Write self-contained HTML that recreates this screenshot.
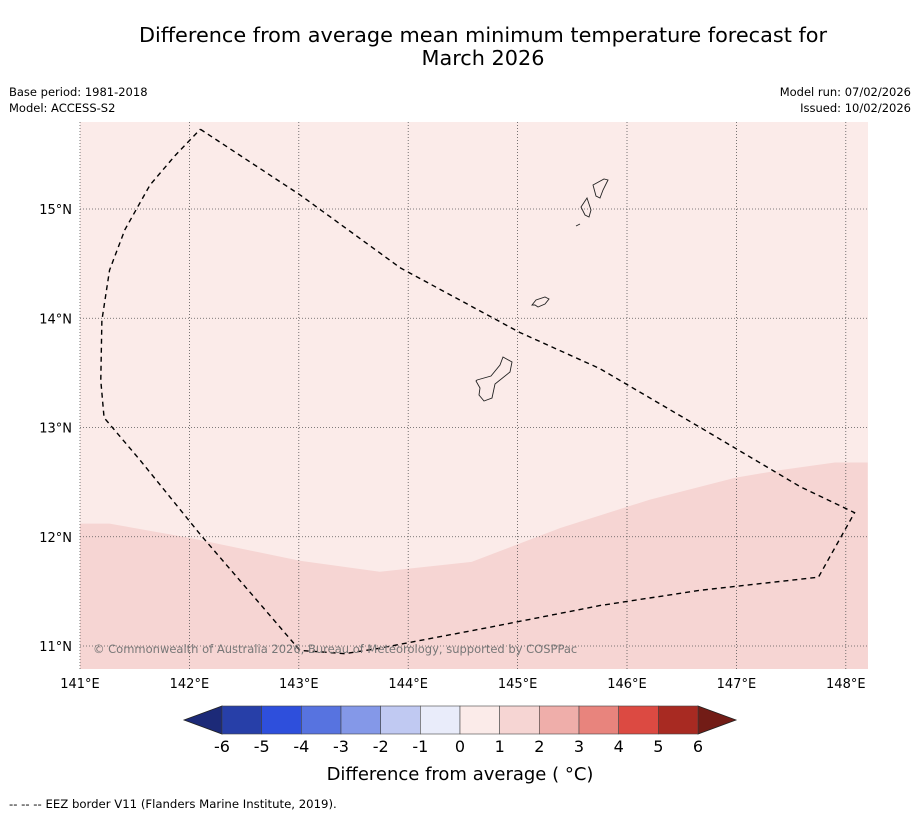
<!DOCTYPE html>
<html><head><meta charset="utf-8"><style>
body{margin:0;background:#fff;width:919px;height:816px;overflow:hidden;font-family:"DejaVu Sans",sans-serif}
</style></head><body>
<svg id="s" width="919" height="816" xmlns="http://www.w3.org/2000/svg" font-family="DejaVu Sans, sans-serif">
<text x="483" y="42" font-size="20.8" text-anchor="middle">Difference from average mean minimum temperature forecast for</text>
<text x="483" y="65" font-size="20.8" text-anchor="middle">March 2026</text>
<text x="9" y="96" font-size="11.5">Base period: 1981-2018</text>
<text x="9" y="112" font-size="11.5">Model: ACCESS-S2</text>
<text x="911" y="96" font-size="11.5" text-anchor="end">Model run: 07/02/2026</text>
<text x="911" y="112" font-size="11.5" text-anchor="end">Issued: 10/02/2026</text>
<rect x="80" y="122" width="788" height="547" fill="#fbebe9"/>
<g id="map"></g>
<text x="93" y="653" font-size="11.5" fill="#777">© Commonwealth of Australia 2026, Bureau of Meteorology, supported by COSPPac</text>
<g id="cb"></g>
<text x="460" y="780" font-size="18" text-anchor="middle">Difference from average ( °C)</text>
<text x="9" y="808" font-size="11.7">-- -- -- EEZ border V11 (Flanders Marine Institute, 2019).</text>
</svg>
<script>
const lonTicks=[141,142,143,144,145,146,147,148];
const latTicks=[11,12,13,14,15];
const contourLon=[141.0,141.27,142.0,143.01,143.74,144.58,145.39,146.21,146.99,147.4,147.9,148.2];
const contourLat=[12.12,12.12,11.99,11.78,11.68,11.77,12.08,12.34,12.54,12.61,12.68,12.68];
const eezLon=[142.10,143.01,143.93,145.02,145.75,146.67,147.58,148.08,147.75,146.67,145.75,144.84,143.74,143.42,143.01,142.65,142.10,141.55,141.22,141.19,141.20,141.27,141.41,141.64,141.87,142.10];
const eezLat=[15.73,15.13,14.46,13.87,13.54,13.00,12.46,12.22,11.63,11.51,11.37,11.19,10.98,10.93,10.96,11.38,12.02,12.70,13.09,13.43,13.98,14.44,14.81,15.22,15.49,15.73];
const cbLevels=[-6,-5,-4,-3,-2,-1,0,1,2,3,4,5,6];
const cbColors=["#273fa8","#2e4fdc","#5773e0","#8498e8","#c0c9f2","#e9ecfa","#fbebe9","#f6d5d3","#efaeaa","#e8847d","#dc4a42","#a82a22"];
const cbLow="#1c2a78",cbHigh="#721c16";
const NS="http://www.w3.org/2000/svg";
const X=lon=>80+(lon-141)*109.4, Y=lat=>209-(lat-15)*109.25;
function mk(t,a,p){const e=document.createElementNS(NS,t);for(const k in a)e.setAttribute(k,a[k]);p.appendChild(e);return e;}
const map=document.getElementById('map');
let d="M80,669 "+contourLon.map((l,i)=>"L"+X(l)+","+Y(contourLat[i])).join(" ")+" L868,669 Z";
const cp=mk('path',{d:d,fill:"#f6d5d3"},map);


lonTicks.forEach(l=>{const x=X(l);
 const g=mk('line',{x1:x,x2:x,y1:122,y2:669,stroke:"#555","stroke-width":0.8,"stroke-dasharray":"1,2"},map);
 
 
 const t=mk('text',{x:x,y:688,"font-size":13,"text-anchor":"middle"},map);t.textContent=l+"°E";
 
 });
latTicks.forEach(l=>{const y=Y(l);
 const g=mk('line',{x1:80,x2:868,y1:y,y2:y,stroke:"#555","stroke-width":0.8,"stroke-dasharray":"1,2"},map);
 
 
 const t=mk('text',{x:72,y:y+5,"font-size":13,"text-anchor":"end"},map);t.textContent=l+"°N";
 
 });
const islands=[
 "M477,380 L491,376 L500,365 L503,357 L512,362 L510,372 L495,384 L492,398 L484,401 L479,395 L480,388 L476,381 Z",
 "M532,305 L536,300 L545,297 L549,299 L545,304 L538,307 L535,305 Z",
 "M581,207 L587,198 L591,210 L589,217 L585,215 L581,207 Z",
 "M593,185 L604,179 L608,180 L603,190 L600,198 L596,196 Z",
 "M576,226 L580,224"];
islands.forEach(p=>{const e=mk('path',{d:p,fill:"none",stroke:"#222","stroke-width":0.9},map);
 
 });
const ez=mk('path',{d:"M"+eezLon.map((l,i)=>X(l)+","+Y(eezLat[i])).join(" L"),fill:"none",stroke:"#000","stroke-width":1.4,"stroke-dasharray":"5,4"},map);


const cb=document.getElementById('cb');
const cx0=222,cx1=698,cy0=706,cy1=734,step=(cx1-cx0)/cbColors.length;
const lt=mk('path',{d:`M${cx0},${cy0} L184,${(cy0+cy1)/2} L${cx0},${cy1} Z`,fill:cbLow,stroke:"#222","stroke-width":0.8},cb);


const rt=mk('path',{d:`M${cx1},${cy0} L736,${(cy0+cy1)/2} L${cx1},${cy1} Z`,fill:cbHigh,stroke:"#222","stroke-width":0.8},cb);


cbColors.forEach((c,i)=>{const r=mk('rect',{x:cx0+i*step,y:cy0,width:step,height:cy1-cy0,fill:c,stroke:"#444","stroke-width":0.6},cb);
 
 });
cbLevels.forEach((v,i)=>{const t=mk('text',{x:cx0+i*step,y:752,"font-size":16,"text-anchor":"middle"},cb);t.textContent=v;
 
 });
</script>
</body></html>
